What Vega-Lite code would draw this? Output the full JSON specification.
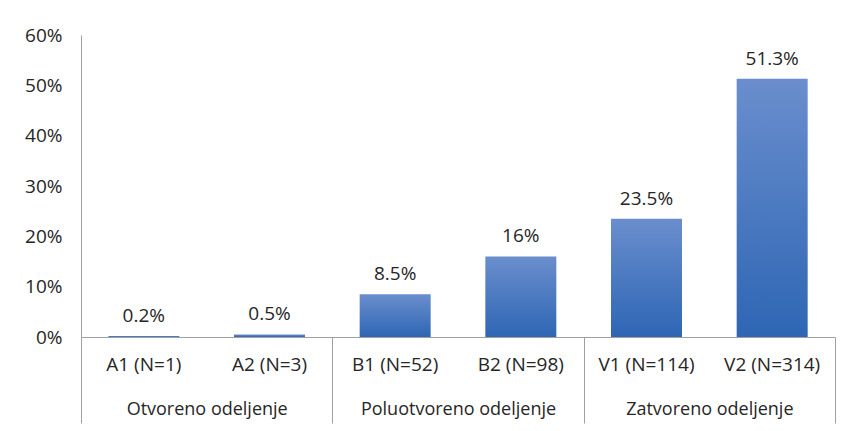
{
  "$schema": "https://vega.github.io/schema/vega-lite/v6.json",
  "width": 754,
  "height": 302,
  "autosize": {"type": "none"},
  "padding": {"left": 81, "top": 35, "right": 18, "bottom": 94},
  "background": "white",
  "config": {
    "view": {"stroke": null},
    "font": "Open Sans",
    "text": {"font": "Open Sans"},
    "axis": {"labelFont": "Open Sans", "labelFontSize": 19, "labelColor": "#262626", "labelLimit": 400, "domainColor": "#a0a0a0", "tickColor": "#a0a0a0", "grid": false, "title": null}
  },
  "data": {
    "values": [
      {"cat": "A1 (N=1)", "group": "Otvoreno odeljenje", "pct": 0.002, "label": "0.2%"},
      {"cat": "A2 (N=3)", "group": "Otvoreno odeljenje", "pct": 0.005, "label": "0.5%"},
      {"cat": "B1 (N=52)", "group": "Poluotvoreno odeljenje", "pct": 0.085, "label": "8.5%"},
      {"cat": "B2 (N=98)", "group": "Poluotvoreno odeljenje", "pct": 0.16, "label": "16%"},
      {"cat": "V1 (N=114)", "group": "Zatvoreno odeljenje", "pct": 0.235, "label": "23.5%"},
      {"cat": "V2 (N=314)", "group": "Zatvoreno odeljenje", "pct": 0.513, "label": "51.3%"}
    ]
  },
  "layer": [
    {
      "mark": {
        "type": "bar",
        "color": {
          "gradient": "linear", "x1": 0, "y1": 0, "x2": 0, "y2": 1,
          "stops": [{"offset": 0, "color": "#6a8ecd"}, {"offset": 1, "color": "#2e66b4"}]
        }
      },
      "encoding": {
        "x": {
          "field": "cat", "type": "nominal", "sort": null,
          "scale": {"type": "band", "paddingInner": 0.435, "paddingOuter": 0.2175},
          "axis": {"orient": "bottom", "ticks": false, "labelAngle": 0, "labelPadding": 18}
        },
        "y": {
          "field": "pct", "type": "quantitative",
          "scale": {"domain": [0, 0.6]},
          "axis": {"ticks": false, "format": ".0%", "values": [0, 0.1, 0.2, 0.3, 0.4, 0.5, 0.6], "labelPadding": 19}
        }
      }
    },
    {
      "mark": {"type": "text", "baseline": "alphabetic", "dy": -14, "fontSize": 19, "color": "#262626"},
      "encoding": {
        "x": {
          "field": "cat", "type": "nominal", "sort": null,
          "scale": {"type": "band", "paddingInner": 0.435, "paddingOuter": 0.2175},
          "axis": null
        },
        "y": {"field": "pct", "type": "quantitative", "scale": {"domain": [0, 0.6]}},
        "text": {"field": "label"}
      }
    },
    {
      "mark": {"type": "tick", "opacity": 0},
      "encoding": {
        "x": {
          "field": "group", "type": "nominal", "sort": null,
          "scale": {"type": "band", "paddingInner": 0, "paddingOuter": 0},
          "axis": {"orient": "bottom", "domain": false, "tickBand": "extent", "tickSize": 86, "labelAngle": 0, "labelFontSize": 18, "labelLimit": 400, "labelPadding": -23}
        }
      }
    }
  ],
  "resolve": {"scale": {"x": "independent"}, "axis": {"x": "independent"}}
}
